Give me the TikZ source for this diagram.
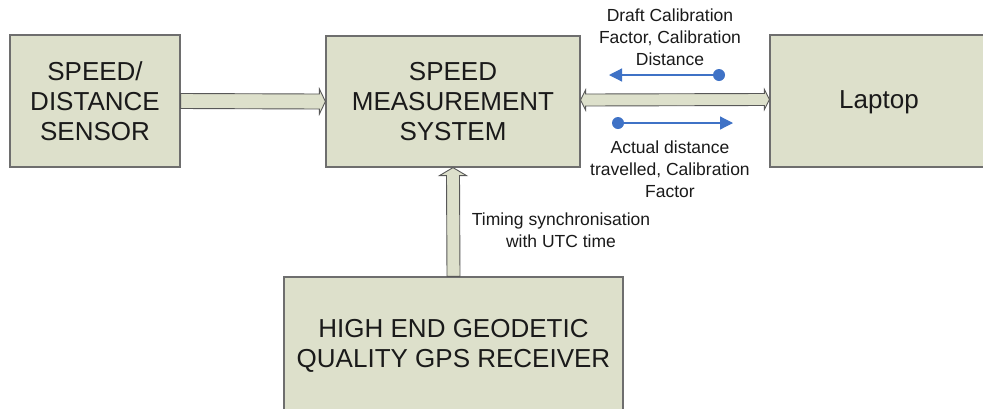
\documentclass[tikz,border=0pt]{standalone}
\usepackage{fontspec}
\setmainfont{Liberation Sans}
\usetikzlibrary{arrows.meta,calc}
\definecolor{boxfill}{HTML}{DDE0CB}
\definecolor{boxline}{HTML}{6E6E6E}
\definecolor{bluearr}{HTML}{3F72C6}
\definecolor{txt}{HTML}{1A1A1A}
\begin{document}
\begin{tikzpicture}[x=1pt,y=-1pt,
  blockbox/.style={draw=boxline,fill=boxfill,line width=1.2pt,inner sep=0pt,align=center,
     text=txt,font=\fontsize{26}{30}\selectfont},
  fatarrow/.style={draw=boxline!80!black,fill=boxfill,line width=0.9pt,line join=miter},
  smalllbl/.style={text=txt,align=center,font=\fontsize{17.5}{22}\selectfont,inner sep=0pt},
  bluearrow/.style={draw=bluearr,line width=1.2pt,-{Triangle[length=13pt,width=13pt]}},
  bluedot/.style={circle,fill=bluearr,inner sep=0pt,minimum size=12pt}]
\useasboundingbox (0,0) rectangle (983,408);
\clip (0,0) rectangle (983,408);
\fill[white] (0,0) rectangle (983,408);

\node[blockbox,minimum width=170pt,minimum height=132pt] (s) at (95,101) {SPEED/\\DISTANCE\\SENSOR};
\node[blockbox,minimum width=254pt,minimum height=131pt] (m) at (453,101.5) {SPEED\\MEASUREMENT\\SYSTEM};
\node[blockbox,minimum width=226pt,minimum height=132pt] (l) at (883,101) {};
\node[font=\fontsize{26}{30}\selectfont,text=txt] (lt) at (879,102) {Laptop};
\node[blockbox,minimum width=339pt,minimum height=150pt] (g) at (453.5,352) {};
\node[font=\fontsize{26}{30}\selectfont,text=txt,align=center] (gt) at (453.5,346) {HIGH END GEODETIC\\QUALITY GPS RECEIVER};

% sensor -> measurement
\draw[fatarrow] ($(s.east)+(0,-7.5)$) -- ($(m.west)+(-6,-7.5)$) -- ($(m.west)+(-6,-12.5)$)
  -- (m.west) -- ($(m.west)+(-6,12.5)$) -- ($(m.west)+(-6,7.5)$) -- ($(s.east)+(0,7.5)$) -- cycle;

% measurement <-> laptop
\draw[fatarrow] ($(m.east)+(0,-1.5)$) -- ($(m.east)+(5,-11.5)$) -- ($(m.east)+(5,-7.5)$)
  -- ($(l.west)+(-5,-7.5)$) -- ($(l.west)+(-5,-11.5)$) -- ($(l.west)+(0,-1.5)$)
  -- ($(l.west)+(-5,8.5)$) -- ($(l.west)+(-5,4.5)$) -- ($(m.east)+(5,4.5)$)
  -- ($(m.east)+(5,8.5)$) -- cycle;

% gps -> measurement
\draw[fatarrow] ($(g.north)+(-6.5,0)$) -- ($(m.south)+(-6.5,8)$) -- ($(m.south)+(-13.5,8)$)
  -- (m.south) -- ($(m.south)+(13.5,8)$) -- ($(m.south)+(6.5,8)$) -- ($(g.north)+(6.5,0)$) -- cycle;

% blue arrows
\node[bluedot] (d1) at (719,75) {};
\coordinate (e1) at (609,75);
\draw[bluearrow] (d1.center) -- (e1);
\node[bluedot] (d2) at (618,123) {};
\coordinate (e2) at (733,123);
\draw[bluearrow] (d2.center) -- (e2);

\node[smalllbl] (t1) at (670,37) {Draft Calibration\\Factor, Calibration\\Distance};
\node[smalllbl] (t2) at (670,169) {Actual distance\\travelled, Calibration\\Factor};
\node[smalllbl] (t3) at (561,230) {Timing synchronisation\\with UTC time};
\end{tikzpicture}
\end{document}
